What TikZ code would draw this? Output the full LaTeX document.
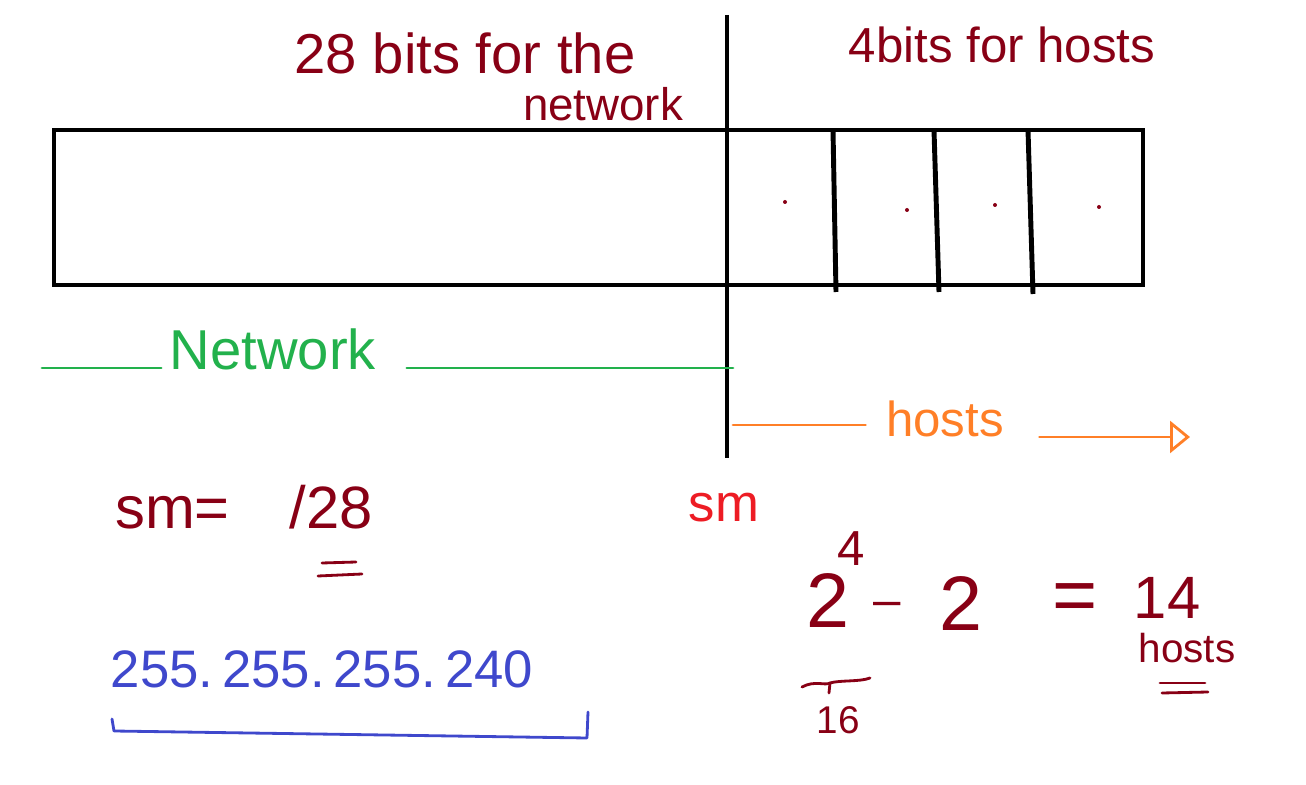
\documentclass[tikz,border=0pt]{standalone}
\usepackage{xcolor}
\usepackage{fontspec}
\setmainfont{Liberation Sans}
\usetikzlibrary{arrows.meta, positioning}
\definecolor{inkred}{RGB}{136,0,21}
\definecolor{inkgreen}{RGB}{34,177,76}
\definecolor{inkorange}{RGB}{255,127,39}
\definecolor{inkblue}{RGB}{63,72,204}
\definecolor{inkbright}{RGB}{237,28,36}

\begin{document}
\begin{tikzpicture}[
  x=0.1mm, y=-0.1mm,
  note/.style={text=inkred, inner sep=0pt},
  bar/.style={line width=1.4pt},
  pen/.style={line width=0.8pt, line cap=round, line join=round}
]
  \useasboundingbox (0,0) rectangle (1306,785);

  % address box and host bits
  \draw[bar] (54,130) rectangle (1143,285);
  \draw[bar] (833,130) -- (836,292);
  \draw[bar] (934,130) -- (939,292);
  \draw[bar] (1028,130) -- (1033,294);
  \foreach \x/\y in {785/202, 907/210, 995/205, 1099/207}
    \fill[inkred] (\x,\y) circle (2);

  % split line
  \coordinate (splittop) at (727,15);
  \coordinate (splitbot) at (727,458);
  \draw[line width=1.2pt] (splittop) -- (splitbot);

  \node[note, font=\fontsize{16}{19}\selectfont] (netbits) at (465,53) {28 bits for the};
  \node[note, font=\fontsize{13}{16}\selectfont] (netword) at (603,104) {network};
  \node[note, font=\fontsize{14}{17}\selectfont] (hostbits) at (1002,45) {4bits for hosts};

  % network span
  \coordinate (greenstart) at (42,368);
  \coordinate (greenend) at (733,368);
  \node[text=inkgreen, inner sep=0pt, font=\fontsize{16}{19}\selectfont] (netlabel) at (273,349) {Network};
  \draw[inkgreen, pen] (greenstart) -- ([xshift=-0.8mm]greenstart -| netlabel.west);
  \draw[inkgreen, pen] ([xshift=3mm]greenend -| netlabel.east) -- (greenend);

  % host span
  \coordinate (orangestart) at (733,425);
  \coordinate (orangeend) at (1190,437);
  \node[text=inkorange, inner sep=0pt, font=\fontsize{14}{17}\selectfont] (hostlabel) at (945,419) {hosts};
  \draw[inkorange, pen] (orangestart) -- ([xshift=-2mm]orangestart -| hostlabel.west);
  \draw[inkorange, pen, -{Triangle[open, length=2mm, width=3.2mm]}] ([xshift=3.5mm]orangeend -| hostlabel.east) -- (orangeend);

  % subnet mask
  \node[note, font=\fontsize{17}{20}\selectfont] (smeq) at (244,507) {sm=\hspace{1em}/28};
  \draw[inkred, pen] (322,563) -- (356,562);
  \draw[inkred, pen] (318,576) -- (362,574);
  \node[text=inkbright, inner sep=0pt, font=\fontsize{15}{18}\selectfont] (smmark) at (724,508) {sm};

  \node[text=inkblue, inner sep=0pt, font=\fontsize{15}{18}\selectfont] (mask) at (322,669) {255.\,255.\,255.\,240};
  \draw[inkblue, pen] (112,719) -- (114,731) -- (587,738) -- (588,712);

  % host count
  \node[note, font=\fontsize{22}{26}\selectfont] (base) at (828,601) {2};
  \node[note, font=\fontsize{14}{17}\selectfont] (expo) at (851,549) {4};
  \node[note, font=\fontsize{14}{17}\selectfont, anchor=base] (minus) at (887,617) {–};
  \node[note, font=\fontsize{22}{26}\selectfont] (two) at (961,604) {2};
  \node[note, font=\fontsize{22}{26}\selectfont] (equals) at (1075,603) {=};
  \node[note, font=\fontsize{17}{20}\selectfont] (fourteen) at (1167,598) {14};
  \node[note, font=\fontsize{11.5}{14}\selectfont, below=1.3mm of fourteen, xshift=2mm] (hostcount) {hosts};
  \draw[inkred, pen] (1160,683) -- (1205,683);
  \draw[inkred, pen] (1162,693) -- (1208,692);

  \draw[inkred, pen] (802,687) .. controls (815,680) and (825,686) .. (830,683)
    .. controls (840,680) and (860,682) .. (870,678);
  \draw[inkred, pen] (830,683) -- (829,693);
  \node[note, font=\fontsize{11}{13}\selectfont] (sixteen) at (838,720) {16};
\end{tikzpicture}
\end{document}
